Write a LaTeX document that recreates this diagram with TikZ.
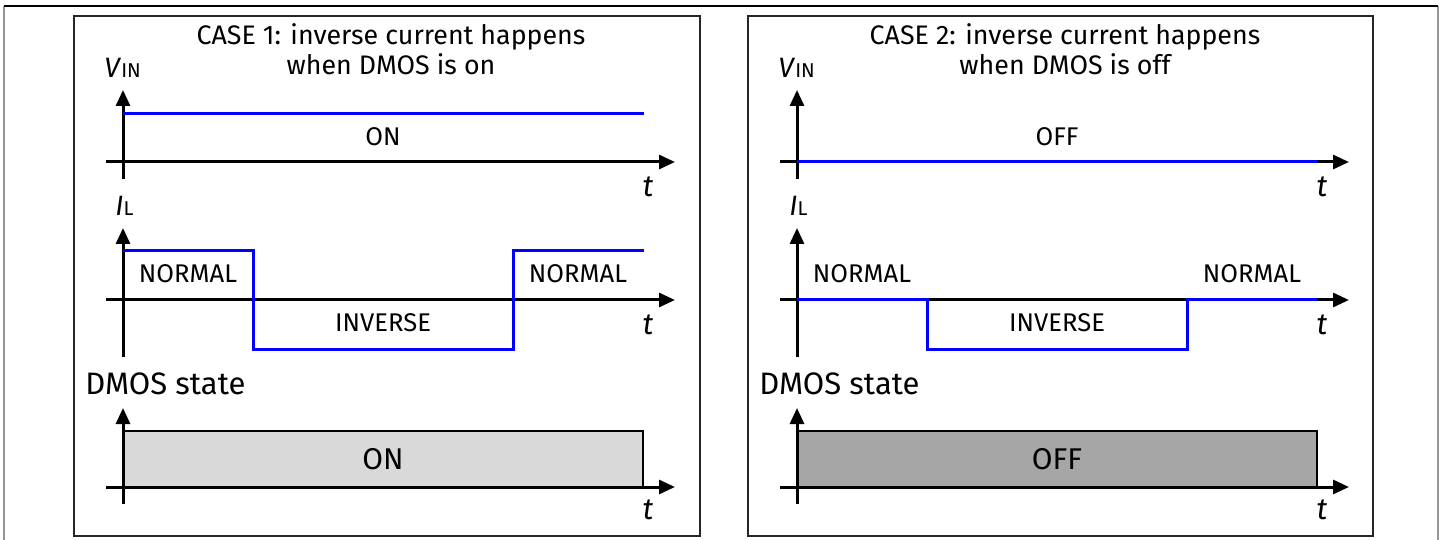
\documentclass[tikz,border=0pt]{standalone}
\usepackage{fontspec}
\setmainfont{Fira Sans}
\usetikzlibrary{arrows.meta}
\definecolor{sigblue}{RGB}{0,0,255}
\definecolor{onfill}{RGB}{217,217,217}
\definecolor{offfill}{RGB}{166,166,166}
\definecolor{framegray}{RGB}{150,150,150}
\begin{document}
\begin{tikzpicture}[x=0.5pt,y=-0.5pt,
  axis/.style={line width=1.5pt,-{Triangle[length=8pt,width=7pt]}},
  sig/.style={line width=1.5pt,draw=sigblue},
  panel/.style={line width=0.9pt,draw=black!85},
  lbl/.style={font=\fontsize{12.8pt}{15pt}\selectfont,inner sep=0pt},
  ttl/.style={font=\fontsize{13.4pt}{16pt}\selectfont,inner sep=0pt,anchor=base},
  big/.style={font=\fontsize{15pt}{18pt}\selectfont,inner sep=0pt},
  tl/.style={font=\fontsize{15pt}{18pt}\selectfont\itshape,inner sep=0pt},
  varl/.style={font=\fontsize{14pt}{16pt}\selectfont,inner sep=0pt,anchor=base west},
  statebox/.style={line width=1pt,draw=black}]
\useasboundingbox (0,0) rectangle (1448,540);
% outer frame
\draw[framegray,line width=0.8pt] (4,6) -- (4,541);
\draw[framegray,line width=0.8pt] (1438,6) -- (1438,541);
\draw[black,line width=0.8pt] (4,6) -- (1438,6);

% ---------- Panel 1 ----------
\draw[panel] (74,16) rectangle (700,536);
\node[ttl] (t1a) at (391,45) {CASE 1: inverse current happens};
\node[ttl] (t1b) at (391,75) {when DMOS is on};
% V_IN
\node[varl] (v1) at (104,78) {\textit{V}{\fontsize{10pt}{12pt}\selectfont IN}};
\draw[axis] (123,179) -- (123,90);
\draw[axis] (106,162) -- (675,162);
\draw[sig] (123,114) -- (644,114);
\node[lbl] (on1) at (383,137) {ON};
\node[tl] (ta1) at (648,187) {t};
% I_L
\node[varl] (i1) at (115,216) {\textit{I}{\fontsize{10pt}{12pt}\selectfont L}};
\draw[axis] (123,357) -- (123,228);
\draw[axis] (106,300) -- (675,300);
\draw[sig] (123,251) -- (253,251) -- (253,349) -- (513,349) -- (513,251) -- (644,251);
\node[lbl] (n1a) at (188,274) {NORMAL};
\node[lbl] (n1b) at (578,274) {NORMAL};
\node[lbl] (inv1) at (383,323) {INVERSE};
\node[tl] (tb1) at (648,325) {t};
% DMOS state
\node[varl,font=\fontsize{15.5pt}{18pt}\selectfont] (d1) at (85,394) {DMOS state};
\draw[statebox,fill=onfill] (123,431) rectangle (643,487);
\draw[axis] (123,504) -- (123,408);
\draw[axis] (106,487) -- (675,487);
\node[big] (s1) at (383,459) {ON};
\node[tl] (tc1) at (648,510) {t};

% ---------- Panel 2 ----------
\draw[panel] (748,16) rectangle (1373,536);
\node[ttl] (t2a) at (1065,45) {CASE 2: inverse current happens};
\node[ttl] (t2b) at (1065,75) {when DMOS is off};
% V_IN
\node[varl] (v2) at (778,78) {\textit{V}{\fontsize{10pt}{12pt}\selectfont IN}};
\draw[axis] (797,179) -- (797,90);
\draw[axis] (780,162) -- (1349,162);
\draw[sig] (797,162) -- (1317,162);
\node[lbl] (off2) at (1057,137) {OFF};
\node[tl] (ta2) at (1322,187) {t};
% I_L
\node[varl] (i2) at (789,216) {\textit{I}{\fontsize{10pt}{12pt}\selectfont L}};
\draw[axis] (797,357) -- (797,228);
\draw[axis] (780,300) -- (1349,300);
\draw[sig] (797,300) -- (927,300) -- (927,349) -- (1187,349) -- (1187,300) -- (1317,300);
\node[lbl] (n2a) at (862,274) {NORMAL};
\node[lbl] (n2b) at (1252,274) {NORMAL};
\node[lbl] (inv2) at (1057,323) {INVERSE};
\node[tl] (tb2) at (1322,325) {t};
% DMOS state
\node[varl,font=\fontsize{15.5pt}{18pt}\selectfont] (d2) at (759,394) {DMOS state};
\draw[statebox,fill=offfill] (797,431) rectangle (1317,487);
\draw[axis] (797,504) -- (797,408);
\draw[axis] (780,487) -- (1349,487);
\node[big] (s2) at (1057,459) {OFF};
\node[tl] (tc2) at (1322,510) {t};
\end{tikzpicture}
\end{document}
